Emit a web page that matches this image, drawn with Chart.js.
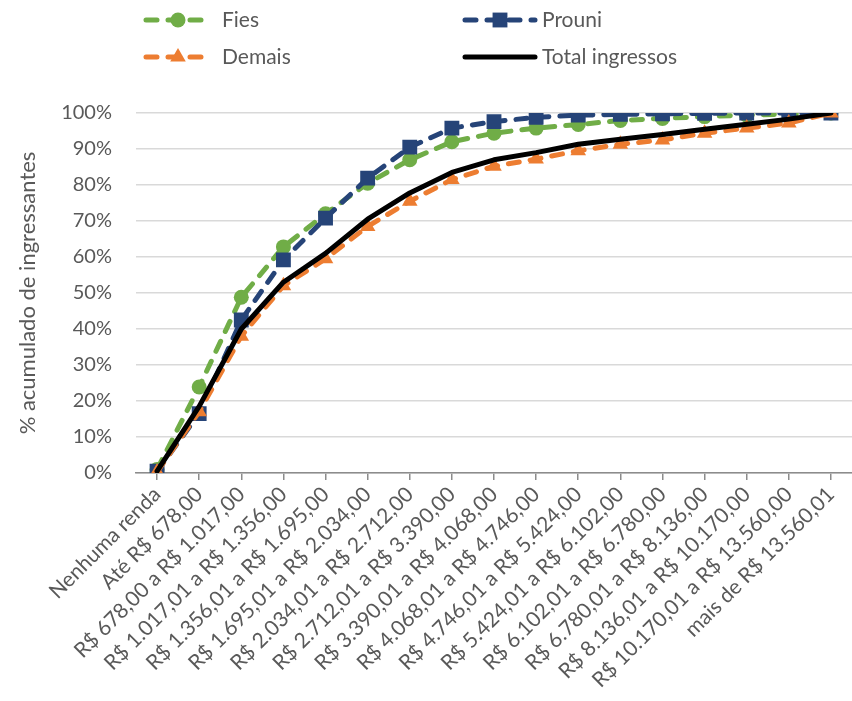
<!DOCTYPE html>
<html>
<head>
<meta charset="utf-8">
<script src="https://cdn.jsdelivr.net/npm/chart.js@4.4.0/dist/chart.umd.min.js"></script>
<style>
  html, body { margin: 0; padding: 0; background: #fff; }
  #grafico-wrap { width: 852px; height: 701px; }
</style>
</head>
<body>
<div id="grafico-wrap"><canvas id="grafico" width="852" height="701"></canvas></div>
<script>
const faixas = [
  "Nenhuma renda", "Até R$ 678,00", "R$ 678,00 a R$ 1.017,00", "R$ 1.017,01 a R$ 1.356,00",
  "R$ 1.356,01 a R$ 1.695,00", "R$ 1.695,01 a R$ 2.034,00", "R$ 2.034,01 a R$ 2.712,00",
  "R$ 2.712,01 a R$ 3.390,00", "R$ 3.390,01 a R$ 4.068,00", "R$ 4.068,01 a R$ 4.746,00",
  "R$ 4.746,01 a R$ 5.424,00", "R$ 5.424,01 a R$ 6.102,00", "R$ 6.102,01 a R$ 6.780,00",
  "R$ 6.780,01 a R$ 8.136,00", "R$ 8.136,01 a R$ 10.170,00", "R$ 10.170,01 a R$ 13.560,00",
  "mais de R$ 13.560,01"
];
const fies   = [1, 23.9, 48.8, 62.8, 72, 80.5, 87, 92, 94.4, 95.8, 96.8, 97.9, 98.5, 99, 99.4, 99.7, 100];
const prouni = [0.5, 16.5, 42.5, 59.2, 70.8, 81.9, 90.5, 95.8, 97.6, 98.8, 99.4, 99.6, 99.8, 99.9, 100, 100, 100];
const demais = [0.3, 17, 38, 52, 59.5, 68.5, 75.5, 81.5, 85.2, 87.2, 89.5, 91.3, 92.5, 94.4, 95.8, 97.2, 100];
const total  = [0.5, 18.5, 40, 53, 61, 70.5, 77.8, 83.5, 87, 89, 91.3, 92.7, 94, 95.5, 96.9, 98.3, 100];
const yTicks = [0, 10, 20, 30, 40, 50, 60, 70, 80, 90, 100];

const verde = "#70AD47";
const azul = "#264478";
const laranja = "#ED7D31";
const cinzaTexto = "#595959";

// dibuja un marcador simple (legenda)
const marcador = (ctx, estilo, r, x, y, cor) => {
  ctx.save();
  ctx.fillStyle = cor;
  ctx.beginPath();
  if (estilo === "circle") {
    ctx.arc(x, y, r, 0, Math.PI * 2);
  } else if (estilo === "rect") {
    const s = r * Math.SQRT1_2;
    ctx.rect(x - s, y - s, 2 * s, 2 * s);
  } else if (estilo === "triangle") {
    ctx.moveTo(x, y - r);
    ctx.lineTo(x + r * 0.866, y + r * 0.5);
    ctx.lineTo(x - r * 0.866, y + r * 0.5);
    ctx.closePath();
  }
  ctx.fill();
  ctx.restore();
};

const legendaPlugin = {
  id: "legendaPlugin",
  afterDraw(chart) {
    const ctx = chart.ctx;
    const itens = [
      { ds: 0, x1: 146, x2: 210, tx: 222, y: 20 },
      { ds: 1, x1: 465, x2: 535, tx: 542, y: 20 },
      { ds: 2, x1: 146, x2: 210, tx: 222, y: 57 },
      { ds: 3, x1: 465, x2: 535, tx: 542, y: 57 },
    ];
    itens.forEach((it) => {
      const d = chart.data.datasets[it.ds];
      ctx.save();
      ctx.strokeStyle = d.borderColor;
      ctx.lineWidth = d.borderWidth;
      ctx.lineCap = d.borderCapStyle || "butt";
      ctx.setLineDash(d.borderDash || []);
      ctx.beginPath();
      ctx.moveTo(it.x1, it.y);
      ctx.lineTo(it.x2, it.y);
      ctx.stroke();
      ctx.restore();
      if (d.pointRadius > 0) {
        marcador(ctx, d.pointStyle, d.pointRadius, (it.x1 + it.x2) / 2, it.y, d.pointBackgroundColor);
      }
      ctx.save();
      ctx.fillStyle = cinzaTexto;
      ctx.font = "21px Lato";
      ctx.textBaseline = "middle";
      ctx.textAlign = "left";
      ctx.fillText(d.label, it.tx, it.y);
      ctx.restore();
    });
  }
};

const grafico = new Chart(document.querySelector("#grafico"), {
  type: "line",
  data: {
    labels: faixas,
    datasets: [
      {
        label: "Fies", data: fies, order: 3,
        borderColor: verde, borderWidth: 5, borderDash: [11, 11], borderCapStyle: "round",
        pointStyle: "circle", pointRadius: 7.5, pointBackgroundColor: verde, pointBorderWidth: 0,
      },
      {
        label: "Prouni", data: prouni, order: 2,
        borderColor: azul, borderWidth: 5, borderDash: [11, 11], borderCapStyle: "round",
        pointStyle: "rect", pointRadius: 10.5, pointBackgroundColor: azul, pointBorderWidth: 0,
      },
      {
        label: "Demais", data: demais, order: 1,
        borderColor: laranja, borderWidth: 5, borderDash: [11, 11], borderCapStyle: "round",
        pointStyle: "triangle", pointRadius: 9, pointBackgroundColor: laranja, pointBorderWidth: 0,
      },
      {
        label: "Total ingressos", data: total, order: 0,
        borderColor: "#000000", borderWidth: 5, borderCapStyle: "round", borderJoinStyle: "round",
        pointRadius: 0,
      },
    ],
  },
  options: {
    responsive: false,
    animation: false,
    layout: { autoPadding: false, padding: { top: 113, left: 0, right: 0, bottom: 0 } },
    plugins: {
      legend: { display: false },
      tooltip: { enabled: false },
    },
    elements: { line: { tension: 0 } },
    scales: {
      x: {
        offset: true,
        afterFit: (s) => { s.height = 228; s.paddingRight = 0; },
        border: { display: true, color: "#8c8c8c", width: 1.5 },
        grid: { drawOnChartArea: false, drawTicks: true, tickLength: 7, color: "#8c8c8c", lineWidth: 1.5 },
        ticks: {
          autoSkip: false, minRotation: 45, maxRotation: 45, padding: 2,
          color: cinzaTexto, font: { family: "Lato", size: 21 },
        },
      },
      y: {
        min: 0, max: 100,
        afterFit: (s) => { s.width = 136; },
        afterBuildTicks: (s) => { s.ticks = yTicks.map((v) => ({ value: v })); },
        border: { display: false },
        grid: { drawTicks: false, color: "#d9d9d9", lineWidth: 1.5 },
        ticks: {
          padding: 24, color: cinzaTexto, font: { family: "Lato", size: 20 },
          callback: (v) => v + "%",
        },
        title: {
          display: true, text: "% acumulado de ingressantes",
          color: cinzaTexto, font: { family: "Lato", size: 22 }, padding: { top: 15, bottom: 0 },
        },
      },
    },
  },
  plugins: [legendaPlugin],
});
</script>
</body>
</html>
